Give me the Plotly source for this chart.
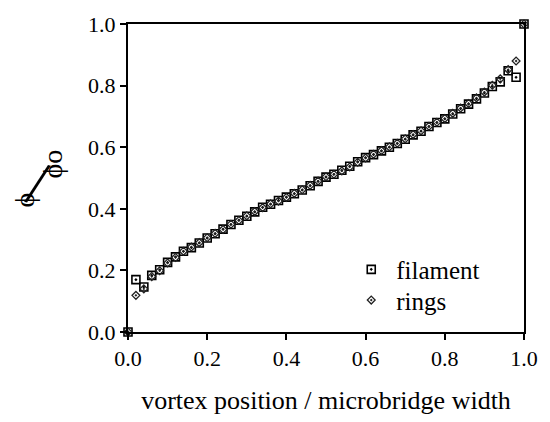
import plotly.graph_objects as go

x_pos = [0.00, 0.02, 0.04, 0.06, 0.08, 0.10, 0.12, 0.14, 0.16, 0.18, 0.20,
         0.22, 0.24, 0.26, 0.28, 0.30, 0.32, 0.34, 0.36, 0.38, 0.40,
         0.42, 0.44, 0.46, 0.48, 0.50, 0.52, 0.54, 0.56, 0.58, 0.60,
         0.62, 0.64, 0.66, 0.68, 0.70, 0.72, 0.74, 0.76, 0.78, 0.80,
         0.82, 0.84, 0.86, 0.88, 0.90, 0.92, 0.94, 0.96, 0.98, 1.00]

filament = [0.000, 0.170, 0.146, 0.184, 0.202, 0.226, 0.244, 0.262, 0.274, 0.289, 0.305,
            0.319, 0.334, 0.349, 0.363, 0.376, 0.390, 0.405, 0.415, 0.427, 0.438,
            0.449, 0.461, 0.475, 0.489, 0.503, 0.512, 0.525, 0.538, 0.553, 0.566,
            0.576, 0.588, 0.600, 0.612, 0.626, 0.640, 0.652, 0.667, 0.680, 0.692,
            0.708, 0.725, 0.740, 0.757, 0.776, 0.797, 0.812, 0.848, 0.827, 1.000]

rings = [0.000, 0.119, 0.140, 0.180, 0.199, 0.224, 0.242, 0.262, 0.276, 0.290, 0.306,
         0.320, 0.333, 0.350, 0.362, 0.377, 0.391, 0.404, 0.416, 0.425, 0.437,
         0.450, 0.462, 0.476, 0.490, 0.504, 0.512, 0.523, 0.536, 0.551, 0.565,
         0.577, 0.589, 0.601, 0.613, 0.627, 0.641, 0.653, 0.668, 0.681, 0.693,
         0.710, 0.727, 0.742, 0.760, 0.779, 0.801, 0.822, 0.852, 0.880, 1.000]

tick_vals = [0.0, 0.2, 0.4, 0.6, 0.8, 1.0]
tick_text = ["0.0", "0.2", "0.4", "0.6", "0.8", "1.0"]

FONT = "Liberation Serif"

L, R, T, B = 128, 21, 21, 90
PW, PH = 550 - L - R, 422 - T - B


def px_to_paper(px, py):
    return (px - L) / PW, (422 - B - py) / PH


fig = go.Figure()
fig.add_trace(go.Scatter(
    x=x_pos, y=filament, mode="markers", name="filament", legend="legend",
    showlegend=True,
    marker=dict(symbol="square-open-dot", size=8, color="black",
                line=dict(width=1.6, color="black")),
    cliponaxis=False,
))
fig.add_trace(go.Scatter(
    x=x_pos, y=rings, mode="markers", name="rings", legend="legend2",
    showlegend=True,
    marker=dict(symbol="diamond-open-dot", size=6, color="#222",
                line=dict(width=1.3, color="#222")),
    cliponaxis=False,
))

axis_common = dict(
    showline=True, linecolor="black", linewidth=2, mirror=True,
    ticks="outside", ticklen=6, tickwidth=1.5, tickcolor="black",
    showgrid=False, zeroline=False,
    tickfont=dict(family=FONT, size=22, color="black"),
    tickvals=tick_vals, ticktext=tick_text,
)

fig.update_xaxes(range=[0, 1], **axis_common,
                 title=dict(text="vortex position / microbridge width",
                            font=dict(family=FONT, size=26, color="black"),
                            standoff=20))
fig.update_yaxes(range=[0, 1], **axis_common)

anns = []
for txt, px, py, ang, size in [("ϕ", 23, 199, -90, 28),
                               ("/", 37, 182, 14, 62),
                               ("ϕo", 52, 162, -90, 28)]:
    ax, ay = px_to_paper(px, py)
    anns.append(dict(text=txt, x=ax, y=ay, xref="paper", yref="paper",
                     xanchor="center", yanchor="middle",
                     showarrow=False, textangle=ang,
                     font=dict(family=FONT, size=size, color="black")))

leg_common = dict(xanchor="left", yanchor="middle", itemwidth=40,
                  font=dict(family=FONT, size=25, color="black"),
                  bgcolor="rgba(0,0,0,0)")
lx, ly1 = px_to_paper(349, 269)
_, ly2 = px_to_paper(349, 300)

fig.update_layout(
    width=550, height=422,
    margin=dict(l=L, r=R, t=T, b=B),
    paper_bgcolor="white", plot_bgcolor="white",
    font=dict(family=FONT, color="black"),
    showlegend=True,
    legend=dict(x=lx, y=ly1, **leg_common),
    legend2=dict(x=lx, y=ly2, **leg_common),
    annotations=anns,
)

fig.write_html("out.html")
